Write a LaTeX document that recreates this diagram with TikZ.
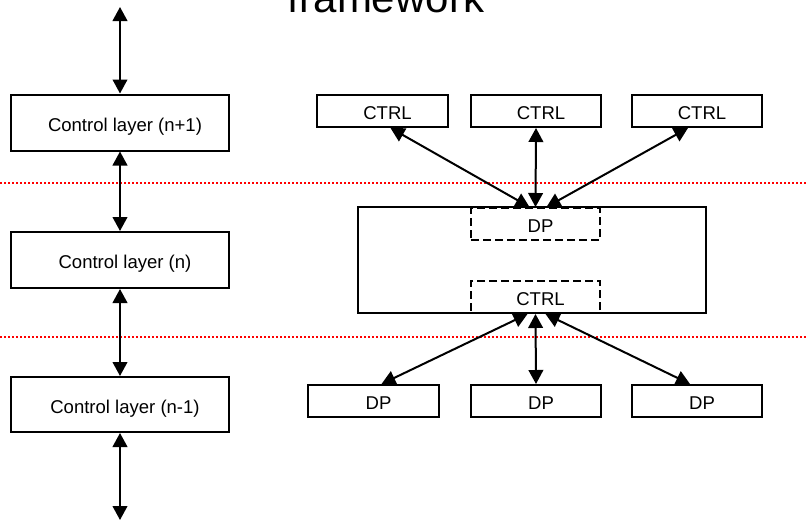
\documentclass[tikz,border=0pt]{standalone}
\usepackage{fontspec}
\setmainfont{Liberation Sans}
\usetikzlibrary{arrows.meta,calc}

\tikzset{
  box/.style={draw, line width=1.5pt, rectangle, inner sep=0pt, text height=13pt, text depth=0pt, font=\fontsize{13.9pt}{16pt}\selectfont},
  dashbox/.style={box, dash pattern=on 6pt off 3pt},
  link/.style={line width=1.5pt, {Triangle[length=10.5pt,width=11pt]}-{Triangle[length=10.5pt,width=11pt]}},
  sep/.style={red, line width=1.6pt, dash pattern=on 1.6pt off 1.4pt},
}
\newcommand{\pad}[1]{\hspace*{7.5pt}#1}

\begin{document}
\begin{tikzpicture}[x=0.75pt, y=-0.75pt]
  \useasboundingbox (0,0) rectangle (806,522);
  \begin{scope}
    \clip (0,0) rectangle (806,522);
    \node[anchor=base, font=\fontsize{31.5pt}{36pt}\selectfont] (title) at (386,12) {framework};
  \end{scope}

  % separators between the control layers
  \draw[sep] (0,183) -- (806,183);
  \draw[sep] (0,337) -- (806,337);

  % left column: stacked control layers
  \node[box, minimum width=163.5pt, minimum height=42pt] (l1) at (120,122.5) {\pad{Control layer (n+1)}};
  \node[box, minimum width=163.5pt, minimum height=42pt] (l2) at (120,260) {\pad{Control layer (n)}};
  \node[box, minimum width=163.5pt, minimum height=41.25pt] (l3) at (120,404.5) {\pad{Control layer (n-1)}};
  \coordinate (ltop) at (120,7);
  \coordinate (lbot) at (120,520);

  \draw[link] (ltop) -- (l1.north);
  \draw[link] (l1.south) -- (l2.north);
  \draw[link] (l2.south) -- (l3.north);
  \draw[link] (l3.south) -- (lbot);

  % right side: upper controllers
  \node[box, minimum width=98.25pt, minimum height=24pt] (c1) at (382.5,111) {\pad{CTRL}};
  \node[box, minimum width=97.5pt, minimum height=24pt] (c2) at (536,111) {\pad{CTRL}};
  \node[box, minimum width=97.5pt, minimum height=24pt] (c3) at (697,111) {\pad{CTRL}};

  % middle element
  \node[box, minimum width=261pt, minimum height=79.5pt] (mid) at (532,260) {};
  \node[dashbox, minimum width=96.75pt, minimum height=24pt] (mdp) at (535.5,224) {\pad{DP}};
  \node[dashbox, minimum width=96.75pt, minimum height=24pt] (mctrl) at (535.5,297) {\pad{CTRL}};

  % lower data planes
  \node[box, minimum width=98.25pt, minimum height=24pt] (d1) at (373.5,401) {\pad{DP}};
  \node[box, minimum width=97.5pt, minimum height=24pt] (d2) at (536,401) {\pad{DP}};
  \node[box, minimum width=97.5pt, minimum height=24pt] (d3) at (697,401) {\pad{DP}};

  % connections above the middle element
  \draw[link] ($(c1.south)+(8,0)$) -- ($(mdp.north)+(-6,0)$);
  \draw[link] (c2.south) -- (mdp.north);
  \draw[link] ($(c3.south)+(-9,0)$) -- ($(mdp.north)+(11,0)$);

  % connections below the middle element
  \draw[link] ($(mctrl.south)+(-8,0)$) -- ($(d1.north)+(8,0)$);
  \draw[link] (mctrl.south) -- (d2.north);
  \draw[link] ($(mctrl.south)+(10,0)$) -- ($(d3.north)+(-7,0)$);
\end{tikzpicture}
\end{document}
